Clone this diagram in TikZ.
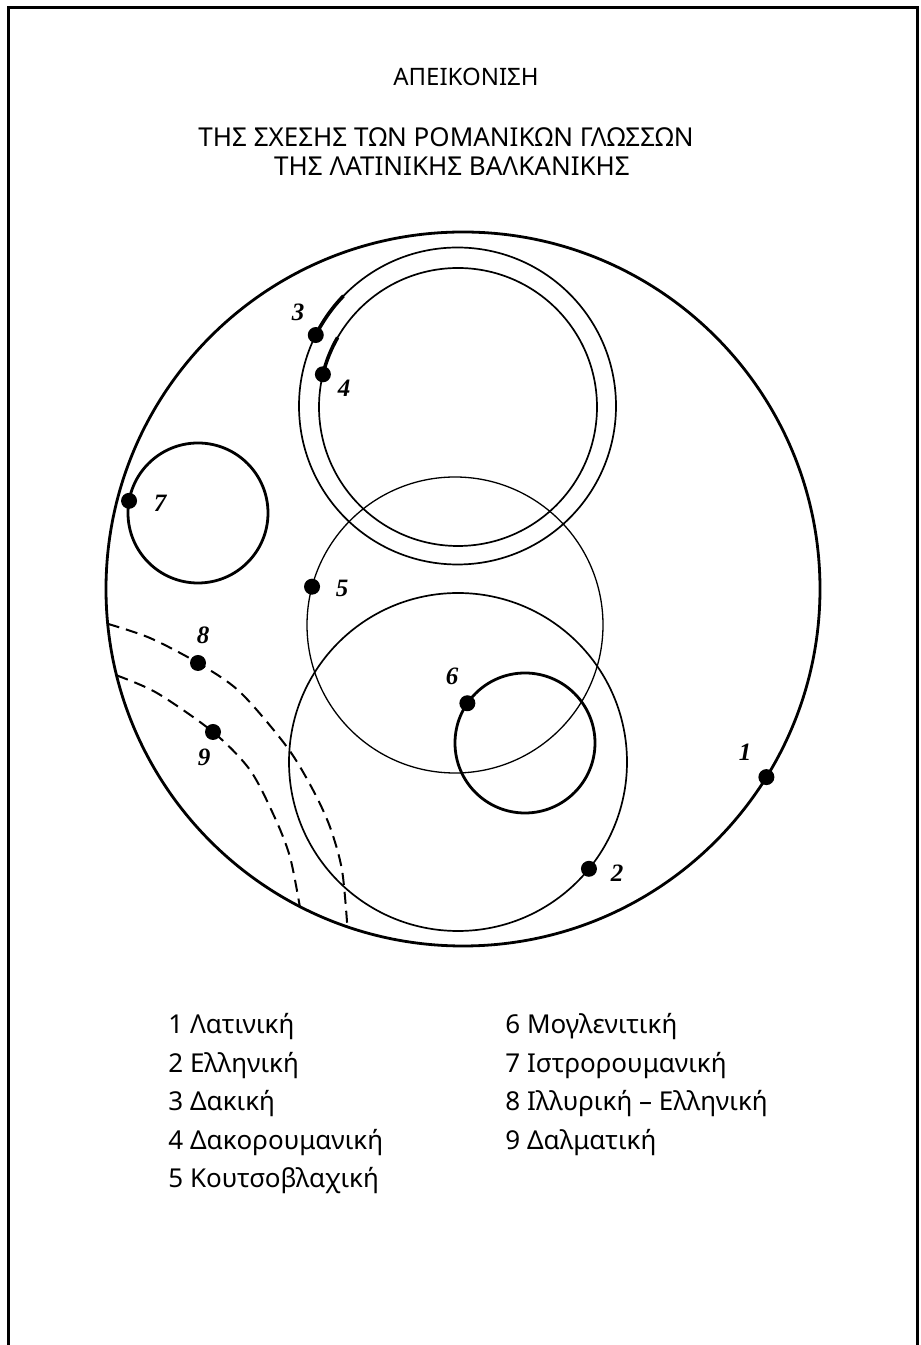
\documentclass[tikz,border=0pt]{standalone}
\usepackage{fontspec}
\setmainfont{Noto Sans}
\newfontfamily\numfont{Liberation Serif}
\usepackage{tikz}
\usetikzlibrary{positioning}
\tikzset{
  frameline/.style={line width=1.5pt},
  outerring/.style={line width=1.4pt},
  ring/.style={line width=0.85pt},
  thinring/.style={line width=0.65pt},
  boldring/.style={line width=1.4pt},
  thickarc/.style={line width=1.8pt},
  dashline/.style={line width=1pt,dash pattern=on 6pt off 3.5pt},
  dot/.style={circle,fill=black,inner sep=0pt,minimum size=8pt},
  num/.style={font=\numfont\bfseries\itshape\fontsize{12.5}{14}\selectfont,inner sep=0pt},
  heading/.style={font=\fontsize{13}{15}\selectfont,inner sep=0pt},
  entry/.style={font=\fontsize{13}{15}\selectfont,anchor=west,inner sep=0pt},
}

\begin{document}
\begin{tikzpicture}[x=0.5pt,y=0.5pt]
\useasboundingbox (0,0) rectangle (921,1345);
% frame (open at the bottom)
\draw[frameline] (8,0) -- (8,1337) -- (917,1337) -- (917,0);
% title
\node[heading,font=\fontsize{12}{14}\selectfont] (t1) at (466,1268) {ΑΠΕΙΚΟΝΙΣΗ};
\node[heading] (t2) at (446,1208) {ΤΗΣ ΣΧΕΣΗΣ ΤΩΝ ΡΟΜΑΝΙΚΩΝ ΓΛΩΣΣΩΝ};
\node[heading] (t3) at (452,1179) {ΤΗΣ ΛΑΤΙΝΙΚΗΣ ΒΑΛΚΑΝΙΚΗΣ};
% centres of the circles
\coordinate (cbig) at (463,756);
\coordinate (c2) at (458,583);
\coordinate (c3) at (457.5,939);
\coordinate (c4) at (458,938);
\coordinate (c5) at (455,720);
\coordinate (c6) at (525,602);
\coordinate (c7) at (198,832);
% circles
\draw[outerring] (cbig) circle[radius=357];
\draw[ring] (c3) circle[radius=158.5];
\draw[ring] (c4) circle[radius=139];
\draw[thinring] (c5) circle[radius=148];
\draw[ring] (c2) circle[radius=169];
\draw[boldring] (c6) circle[radius=70];
\draw[boldring] (c7) circle[radius=70];
% dots on the circles
\path (cbig) ++(-31.8:357) node[dot] (d1) {};
\path (c2) ++(-39.2:169) node[dot] (d2) {};
\path (c3) ++(153.4:158.5) node[dot] (d3) {};
\path (c4) ++(166.4:139) node[dot] (d4) {};
\path (c5) ++(165:148) node[dot] (d5) {};
\path (c6) ++(145.4:70) node[dot] (d6) {};
\path (c7) ++(170:70) node[dot] (d7) {};
\node[dot] (d8) at (198,682) {};
\node[dot] (d9) at (213,613) {};
\draw[thickarc] (d3.center) arc[start angle=153.4,end angle=136,radius=158.5];
\draw[thickarc] (d4.center) arc[start angle=166.4,end angle=150,radius=139];
% dashed borders 8 and 9
\path (cbig) ++(185.6:357) coordinate (s8);
\path (cbig) ++(251.1:357) coordinate (e8);
\path (cbig) ++(194:357) coordinate (s9);
\path (cbig) ++(242.8:357) coordinate (e9);
\draw[dashline] plot[smooth] coordinates {(s8) (150,707) (d8.center) (240,653) (287,598) (313,555) (330,518) (342,475) (e8)};
\draw[dashline] plot[smooth] coordinates {(s9) (157,652) (d9.center) (250,575) (275,527) (290,488) (e9)};
% numbers
\node[num] (l1) at (745,593) {1};
\node[num] (l2) at (617,472) {2};
\node[num] (l3) at (298,1033) {3};
\node[num] (l4) at (344,957) {4};
\node[num] (l5) at (342,757) {5};
\node[num] (l6) at (452,669) {6};
\node[num] (l7) at (160,842) {7};
\node[num] (l8) at (203,710) {8};
\node[num] (l9) at (204,588) {9};
% legend
\foreach \n/\name [count=\i from 0] in {1/Λατινική,2/Ελληνική,3/Δακική,4/Δακορουμανική,5/Κουτσοβλαχική}
  \node[entry] (k\n) at (168,318-38.5*\i) {\n\ \name};
\foreach \n/\name [count=\i from 0] in {6/Μογλενιτική,7/Ιστρορουμανική,8/Ιλλυρική – Ελληνική,9/Δαλματική}
  \node[entry] (k\n) at (505,318-38.5*\i) {\n\ \name};
\end{tikzpicture}
\end{document}
